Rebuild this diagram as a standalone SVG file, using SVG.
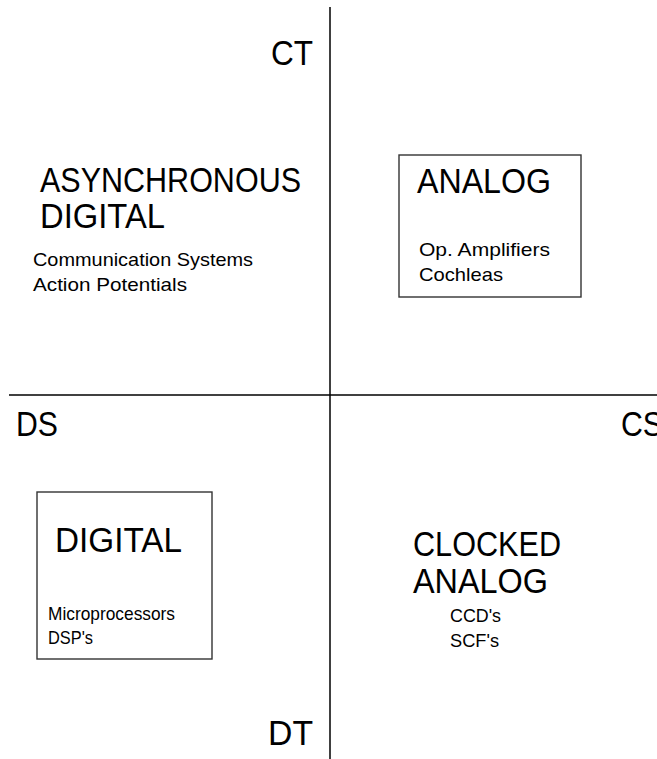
<svg xmlns="http://www.w3.org/2000/svg" width="657" height="759" viewBox="0 0 657 759">
  <style>
    .big { font-family: "Liberation Sans", Arial, sans-serif; font-size: 35px; fill: #000; }
    .small { font-family: "Liberation Sans", Arial, sans-serif; font-size: 19px; fill: #000; }
    .axis { stroke: #000; stroke-width: 1.5; fill: none; }
    .box { stroke: #333; stroke-width: 1.4; fill: none; }
  </style>
  <rect width="657" height="759" fill="#fff"/>

  <g id="axes">
    <line class="axis" x1="330" y1="7" x2="330" y2="759"/>
    <line class="axis" x1="9" y1="395" x2="657" y2="395"/>
  </g>

  <g id="axis-labels">
    <text class="big" x="271" y="65" textLength="42" lengthAdjust="spacingAndGlyphs">CT</text>
    <text class="big" x="16" y="436" textLength="42" lengthAdjust="spacingAndGlyphs">DS</text>
    <text class="big" x="621" y="436" textLength="42" lengthAdjust="spacingAndGlyphs">CS</text>
    <text class="big" x="268" y="745" textLength="45" lengthAdjust="spacingAndGlyphs">DT</text>
  </g>

  <g id="async-digital">
    <text class="big" x="40" y="192" textLength="261" lengthAdjust="spacingAndGlyphs">ASYNCHRONOUS</text>
    <text class="big" x="40" y="228" textLength="125" lengthAdjust="spacingAndGlyphs">DIGITAL</text>
    <text class="small" x="33" y="266" textLength="220" lengthAdjust="spacingAndGlyphs">Communication Systems</text>
    <text class="small" x="33" y="291" textLength="154" lengthAdjust="spacingAndGlyphs">Action Potentials</text>
  </g>

  <g id="analog">
    <rect class="box" x="399" y="155" width="182" height="142"/>
    <text class="big" x="417" y="193" textLength="134" lengthAdjust="spacingAndGlyphs">ANALOG</text>
    <text class="small" x="419" y="256" textLength="131" lengthAdjust="spacingAndGlyphs">Op.  Amplifiers</text>
    <text class="small" x="419" y="281" textLength="84" lengthAdjust="spacingAndGlyphs">Cochleas</text>
  </g>

  <g id="digital">
    <rect class="box" x="37" y="492" width="175" height="167"/>
    <text class="big" x="55" y="552" textLength="127" lengthAdjust="spacingAndGlyphs">DIGITAL</text>
    <text class="small" x="48" y="620" textLength="127" lengthAdjust="spacingAndGlyphs">Microprocessors</text>
    <text class="small" x="48" y="644" textLength="45" lengthAdjust="spacingAndGlyphs">DSP's</text>
  </g>

  <g id="clocked-analog">
    <text class="big" x="413" y="556" textLength="148" lengthAdjust="spacingAndGlyphs">CLOCKED</text>
    <text class="big" x="413" y="593" textLength="135" lengthAdjust="spacingAndGlyphs">ANALOG</text>
    <text class="small" x="450" y="622" textLength="51" lengthAdjust="spacingAndGlyphs">CCD's</text>
    <text class="small" x="450" y="647" textLength="49" lengthAdjust="spacingAndGlyphs">SCF's</text>
  </g>
</svg>
